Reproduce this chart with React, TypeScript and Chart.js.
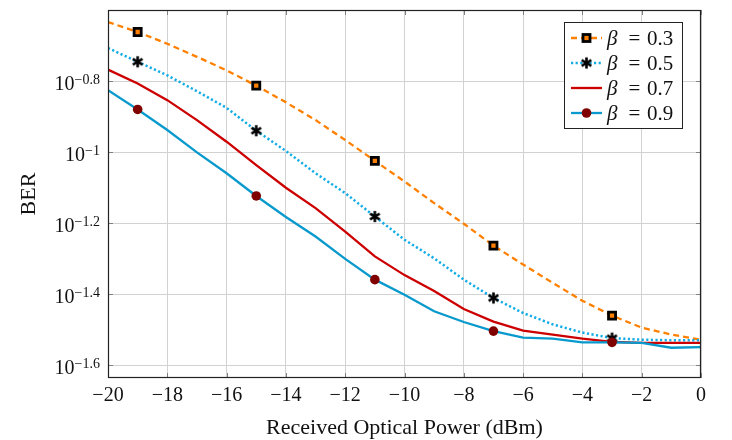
import React, { useEffect, useRef } from 'react';
import { Chart, registerables } from 'chart.js';

Chart.register(...registerables);

// ---- data ----
const powerDbm = [-20, -19, -18, -17, -16, -15, -14, -13, -12, -11, -10, -9, -8, -7, -6, -5, -4, -3, -2, -1, 0];
const berBeta03 = [0.2323, 0.2178, 0.2018, 0.1854, 0.1698, 0.1538, 0.1380, 0.1230, 0.1081, 0.0944, 0.0826, 0.0718, 0.0628, 0.0545, 0.0482, 0.0428, 0.0381, 0.0346, 0.0320, 0.0306, 0.0296];
const berBeta05 = [0.1963, 0.1795, 0.1644, 0.1483, 0.1331, 0.1148, 0.1007, 0.0871, 0.0766, 0.0658, 0.0566, 0.0502, 0.0437, 0.0388, 0.0352, 0.0327, 0.0310, 0.0299, 0.0296, 0.0295, 0.0295];
const berBeta07 = [0.1706, 0.1560, 0.1400, 0.1230, 0.1069, 0.0918, 0.0793, 0.0695, 0.0597, 0.0508, 0.0450, 0.0406, 0.0361, 0.0333, 0.0314, 0.0306, 0.0298, 0.0292, 0.0290, 0.0290, 0.0290];
const berBeta09 = [0.1493, 0.1318, 0.1153, 0.0998, 0.0871, 0.0752, 0.0656, 0.0578, 0.0500, 0.0437, 0.0396, 0.0356, 0.0332, 0.0313, 0.0300, 0.0298, 0.0291, 0.0291, 0.0290, 0.0281, 0.0282];
const markerPowers = [-19, -15, -11, -7, -3];
const betaLabels = ['0.3', '0.5', '0.7', '0.9'];

const xTickValues = [-20, -18, -16, -14, -12, -10, -8, -6, -4, -2, 0];
const xTickLabels = ['−20', '−18', '−16', '−14', '−12', '−10', '−8', '−6', '−4', '−2', '0'];
const yTickValues = [0.158489, 0.1, 0.0630957, 0.0398107, 0.0251189];
const yTickExponents = ['−0.8', '−1', '−1.2', '−1.4', '−1.6'];
const yMin = 0.02309;
const yMax = 0.251189;

const xTitle = 'Received Optical Power (dBm)';
const yTitle = 'BER';

const SERIF = '"Liberation Serif", "Times New Roman", serif';

function makeAsterisk(): HTMLCanvasElement {
  const c = document.createElement('canvas');
  c.width = 15;
  c.height = 15;
  const g = c.getContext('2d')!;
  g.strokeStyle = '#000';
  g.lineWidth = 2.6;
  g.lineCap = 'butt';
  const r = 5.6;
  for (const deg of [90, 30, 150]) {
    const a = (deg * Math.PI) / 180;
    g.beginPath();
    g.moveTo(7.5 - r * Math.cos(a), 7.5 - r * Math.sin(a));
    g.lineTo(7.5 + r * Math.cos(a), 7.5 + r * Math.sin(a));
    g.stroke();
  }
  return c;
}

export default function App() {
  const ref = useRef<HTMLCanvasElement | null>(null);

  useEffect(() => {
    const canvas = ref.current;
    if (!canvas) return;
    const asterisk = makeAsterisk();
    const isMarker = (i: number) => markerPowers.includes(powerDbm[i]);
    const toPts = (arr: number[]) => powerDbm.map((x, i) => ({ x, y: arr[i] }));

    const datasets: any[] = [
      {
        label: betaLabels[0],
        data: toPts(berBeta03),
        borderColor: '#ff8000',
        borderWidth: 2.3,
        borderDash: [6, 4],
        pointStyle: 'rect',
        pointRadius: powerDbm.map((_, i) => (isMarker(i) ? 5 : 0)),
        pointBackgroundColor: '#ff8000',
        pointBorderColor: '#000000',
        pointBorderWidth: 2.8,
        order: 3,
      },
      {
        label: betaLabels[1],
        data: toPts(berBeta05),
        borderColor: '#12ace6',
        borderWidth: 2.5,
        borderDash: [2.2, 2.4],
        pointStyle: asterisk,
        pointRadius: powerDbm.map((_, i) => (isMarker(i) ? 5 : 0)),
        order: 2,
      },
      {
        label: betaLabels[2],
        data: toPts(berBeta07),
        borderColor: '#cc0000',
        borderWidth: 2.3,
        pointRadius: 0,
        order: 1,
      },
      {
        label: betaLabels[3],
        data: toPts(berBeta09),
        borderColor: '#0899cd',
        borderWidth: 2.3,
        pointStyle: 'circle',
        pointRadius: powerDbm.map((_, i) => (isMarker(i) ? 4.8 : 0)),
        pointBackgroundColor: '#800000',
        pointBorderColor: '#800000',
        pointBorderWidth: 0,
        order: 0,
      },
    ];

    const decor = {
      id: 'decor',
      afterDraw(chart: any) {
        const { ctx, chartArea: a, scales } = chart;
        const xs = scales.x;
        const ys = scales.y;
        ctx.save();
        const seg = (x1: number, y1: number, x2: number, y2: number) => {
          ctx.beginPath();
          ctx.moveTo(x1, y1);
          ctx.lineTo(x2, y2);
          ctx.stroke();
        };
        // tick marks (inside)
        ctx.strokeStyle = '#808080';
        ctx.lineWidth = 1;
        ctx.setLineDash([]);
        for (const v of xTickValues) {
          const px = Math.round(xs.getPixelForValue(v)) + 0.5;
          seg(px, a.bottom, px, a.bottom - 5);
          seg(px, a.top, px, a.top + 5);
        }
        for (const v of yTickValues) {
          const py = Math.round(ys.getPixelForValue(v)) + 0.5;
          seg(a.left, py, a.left + 5, py);
          seg(a.right, py, a.right - 5, py);
        }
        // axis box
        ctx.strokeStyle = '#222222';
        ctx.lineWidth = 1.2;
        ctx.strokeRect(a.left + 0.5, a.top + 0.5, a.right - a.left - 1, a.bottom - a.top - 1);

        ctx.fillStyle = '#111111';
        // x tick labels
        ctx.font = `20px ${SERIF}`;
        ctx.textAlign = 'center';
        ctx.textBaseline = 'alphabetic';
        xTickValues.forEach((v, i) => {
          ctx.fillText(xTickLabels[i], xs.getPixelForValue(v), a.bottom + 23);
        });
        // y tick labels 10^e
        yTickValues.forEach((v, i) => {
          const py = ys.getPixelForValue(v);
          ctx.font = `14px ${SERIF}`;
          const ew = ctx.measureText(yTickExponents[i]).width;
          ctx.textAlign = 'left';
          ctx.fillText(yTickExponents[i], a.left - 8 - ew, py + 2.5);
          ctx.font = `20px ${SERIF}`;
          ctx.textAlign = 'right';
          ctx.fillText('10', a.left - 8 - ew, py + 8.5);
        });
        // axis titles
        ctx.font = `22px ${SERIF}`;
        ctx.textAlign = 'center';
        ctx.fillText(xTitle, (a.left + a.right) / 2, 433.5);
        ctx.save();
        ctx.translate(35, (a.top + a.bottom) / 2);
        ctx.rotate(-Math.PI / 2);
        ctx.fillText(yTitle, 0, 0);
        ctx.restore();

        // legend
        const lx = 564.5, ly = 22.5, lw = 118, lh = 106;
        ctx.fillStyle = '#ffffff';
        ctx.fillRect(lx, ly, lw, lh);
        ctx.strokeStyle = '#222222';
        ctx.lineWidth = 1;
        ctx.strokeRect(lx, ly, lw, lh);
        datasets.forEach((ds, i) => {
          const ry = 38 + i * 25;
          ctx.strokeStyle = ds.borderColor;
          ctx.lineWidth = ds.borderWidth;
          ctx.setLineDash(ds.borderDash || []);
          seg(571, ry, 602, ry);
          ctx.setLineDash([]);
          const mx = 586.5;
          if (i === 0) {
            ctx.fillStyle = '#ff8000';
            ctx.fillRect(mx - 3.5, ry - 3.5, 7, 7);
            ctx.strokeStyle = '#000';
            ctx.lineWidth = 2.8;
            ctx.strokeRect(mx - 3.5, ry - 3.5, 7, 7);
          } else if (i === 1) {
            ctx.drawImage(asterisk, mx - asterisk.width / 2, ry - asterisk.height / 2);
          } else if (i === 3) {
            ctx.fillStyle = '#800000';
            ctx.beginPath();
            ctx.arc(mx, ry, 4.8, 0, Math.PI * 2);
            ctx.fill();
          }
          ctx.fillStyle = '#111111';
          ctx.textBaseline = 'alphabetic';
          ctx.font = `italic 21px ${SERIF}`;
          ctx.textAlign = 'left';
          ctx.fillText('β', 607, ry + 7);
          ctx.font = `21px ${SERIF}`;
          ctx.textAlign = 'center';
          ctx.fillText('=', 634.5, ry + 7);
          ctx.textAlign = 'left';
          ctx.fillText(ds.label, 647, ry + 7);
        });
        ctx.restore();
      },
    };

    const chart = new Chart(canvas, {
      type: 'line',
      data: { datasets },
      options: {
        animation: false,
        responsive: false,
        events: [],
        layout: { padding: { left: 108, right: 31, top: 10, bottom: 62 } },
        plugins: { legend: { display: false }, tooltip: { enabled: false } },
        elements: { line: { tension: 0 } },
        scales: {
          x: {
            type: 'linear',
            min: -20,
            max: 0,
            afterBuildTicks: (s: any) => {
              s.ticks = xTickValues.map((value) => ({ value }));
            },
            afterFit: (s: any) => {
              s.height = 0;
            },
            ticks: { display: false },
            grid: { color: '#d2d2d2', lineWidth: 1, drawTicks: false },
            border: { display: false },
          },
          y: {
            type: 'logarithmic',
            min: yMin,
            max: yMax,
            afterBuildTicks: (s: any) => {
              s.ticks = yTickValues.map((value) => ({ value }));
            },
            afterFit: (s: any) => {
              s.width = 0;
            },
            ticks: { display: false },
            grid: { color: '#d2d2d2', lineWidth: 1, drawTicks: false },
            border: { display: false },
          },
        },
      },
      plugins: [decor],
    } as any);

    return () => chart.destroy();
  }, []);

  return (
    <div style={{ position: 'fixed', left: 0, top: 0, width: 732, height: 440, background: '#fff' }}>
      <canvas ref={ref} width={732} height={440} style={{ display: 'block' }} />
    </div>
  );
}
